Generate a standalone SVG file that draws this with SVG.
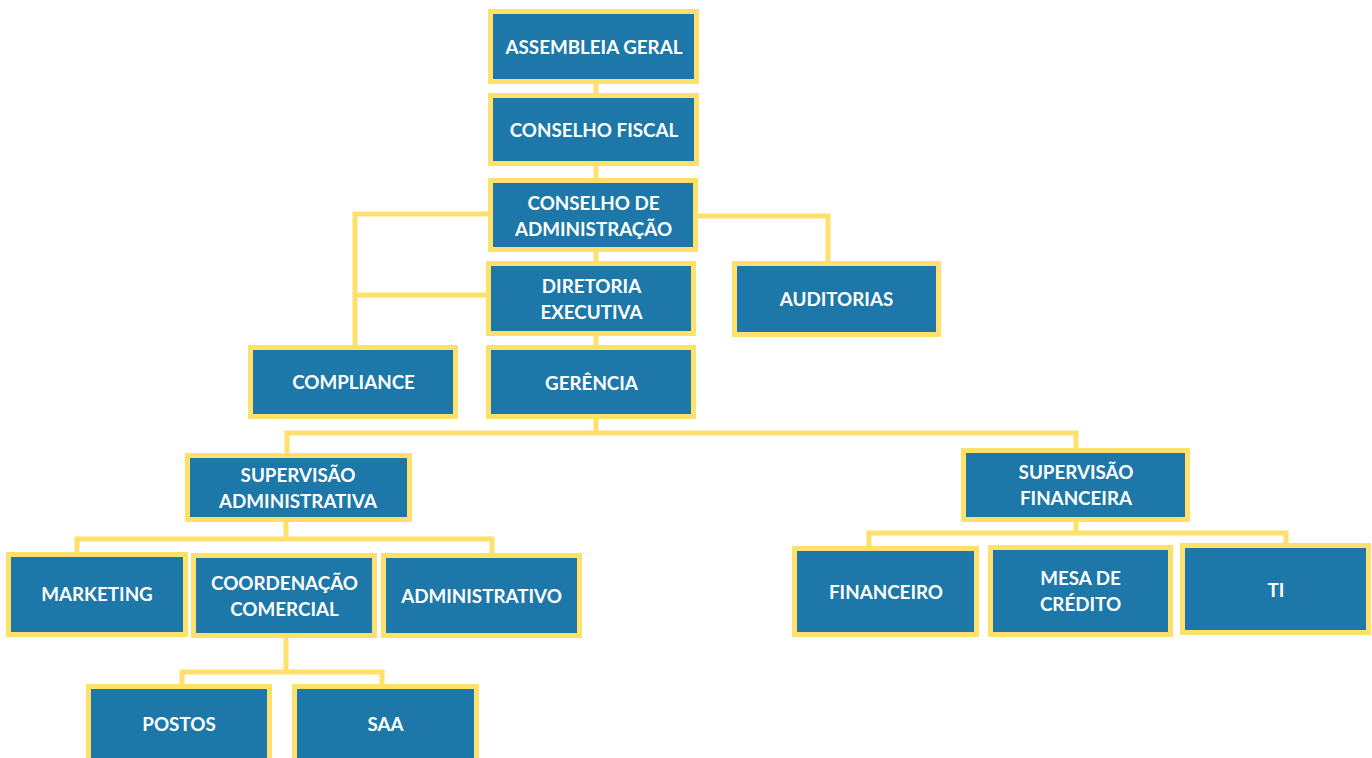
<svg xmlns="http://www.w3.org/2000/svg" width="1372" height="758" viewBox="0 0 1372 758">
<style>
.box{fill:#1D78A9;stroke:#FFE06A;stroke-width:5}
.t{font-family:Lato,"Open Sans","Liberation Sans",sans-serif;font-weight:bold;font-size:18.8px;fill:#ffffff;text-anchor:middle}
.c{fill:none;stroke:#FFE06A;stroke-width:5}
</style>
<rect width="1372" height="758" fill="#ffffff"/>
<g id="connectors">
<path class="c" d="M596 84V93M596 166V178M596 252V261M596 336V345"/>
<path class="c" d="M488 214H355V345M486 295H355"/>
<path class="c" d="M698 216H828V261"/>
<path class="c" d="M596 419V433M287 453V433H1076V448"/>
<path class="c" d="M286 522V539M77 552V539H492V553"/>
<path class="c" d="M1076 522V533M869 546V533H1286V543"/>
<path class="c" d="M286 638V672M182 684V672H382V684"/>
</g>
<g id="n-assembleia"><rect class="box" x="490.5" y="11.5" width="206" height="70"/><text class="t" x="594" y="53.5">ASSEMBLEIA GERAL</text></g>
<g id="n-fiscal"><rect class="box" x="490.5" y="95.5" width="206" height="68"/><text class="t" x="594" y="137">CONSELHO FISCAL</text></g>
<g id="n-adm"><rect class="box" x="490.5" y="180.5" width="205" height="69"/><text class="t" x="593.5" y="210">CONSELHO DE</text><text class="t" x="593.5" y="236">ADMINISTRAÇÃO</text></g>
<g id="n-diretoria"><rect class="box" x="488.5" y="263.5" width="205" height="70"/><text class="t" x="591.5" y="293">DIRETORIA</text><text class="t" x="591.5" y="319">EXECUTIVA</text></g>
<g id="n-auditorias"><rect class="box" x="734.5" y="263.5" width="204" height="71"/><text class="t" x="836.5" y="306">AUDITORIAS</text></g>
<g id="n-compliance"><rect class="box" x="250.5" y="347.5" width="205" height="69"/><text class="t" x="353.5" y="389">COMPLIANCE</text></g>
<g id="n-gerencia"><rect class="box" x="488.5" y="347.5" width="205" height="69"/><text class="t" x="591.5" y="390">GERÊNCIA</text></g>
<g id="n-supadm"><rect class="box" x="187.5" y="455.5" width="222" height="64"/><text class="t" x="298" y="482">SUPERVISÃO</text><text class="t" x="298" y="508">ADMINISTRATIVA</text></g>
<g id="n-supfin"><rect class="box" x="963.5" y="450.5" width="224" height="69"/><text class="t" x="1076" y="479">SUPERVISÃO</text><text class="t" x="1076" y="505">FINANCEIRA</text></g>
<g id="n-marketing"><rect class="box" x="8.5" y="554.5" width="177" height="80"/><text class="t" x="97" y="601">MARKETING</text></g>
<g id="n-coord"><rect class="box" x="193.5" y="555.5" width="181" height="80"/><text class="t" x="284.5" y="590">COORDENAÇÃO</text><text class="t" x="284.5" y="616">COMERCIAL</text></g>
<g id="n-administrativo"><rect class="box" x="383.5" y="555.5" width="196" height="80"/><text class="t" x="481.5" y="603">ADMINISTRATIVO</text></g>
<g id="n-financeiro"><rect class="box" x="794.5" y="548.5" width="182" height="86"/><text class="t" x="886" y="599">FINANCEIRO</text></g>
<g id="n-mesa"><rect class="box" x="990.5" y="547.5" width="180" height="87"/><text class="t" x="1080.5" y="585">MESA DE</text><text class="t" x="1080.5" y="611">CRÉDITO</text></g>
<g id="n-ti"><rect class="box" x="1182.5" y="545.5" width="186" height="87"/><text class="t" x="1276" y="597">TI</text></g>
<g id="n-postos"><rect class="box" x="88.5" y="686.5" width="181" height="90"/><text class="t" x="179" y="731">POSTOS</text></g>
<g id="n-saa"><rect class="box" x="294.5" y="686.5" width="182" height="90"/><text class="t" x="385.5" y="731">SAA</text></g>
</svg>
